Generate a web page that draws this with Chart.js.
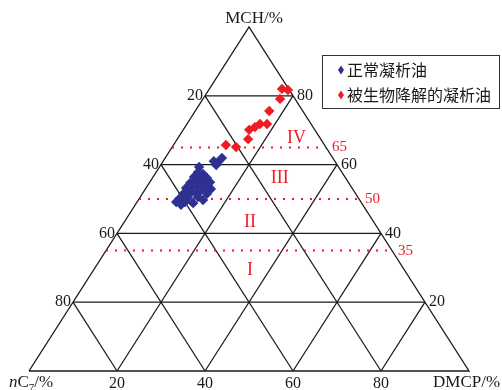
<!DOCTYPE html>
<html>
<head>
<meta charset="utf-8">
<script src="https://cdn.jsdelivr.net/npm/chart.js@4/dist/chart.umd.min.js"></script>
<style>
  html, body { margin: 0; padding: 0; background: #fff; }
  #wrap { width: 502px; height: 390px; position: relative; }
</style>
</head>
<body>
<div id="wrap"><canvas id="c"></canvas></div>
<script>
// Ternary grid ticks (percent) and their labels
const gridTicks = [20, 40, 60, 80];
const tickLabels = ['20', '40', '60', '80'];

// Zone boundaries on the MCH axis and their labels
const zoneBounds = [65, 50, 35];
const zoneBoundLabels = ['65', '50', '35'];
const zoneNames = ['IV', 'III', 'II', 'I'];

// Normal condensate oils: MCH, DMCP, nC7 (%)
const normalMCH  = [61.9, 60.8, 61.0, 59.9, 59.3, 57.8, 57.3, 56.1, 56.4, 55.5, 54.9, 54.1, 54.7, 53.8, 52.9, 53.2, 52.6, 52.0, 51.5, 51.5, 50.6, 50.3, 50.0, 49.1, 49.1, 48.8, 48.3, 53.5, 54.9, 52.6, 51.7, 49.7, 53.8, 50.9, 53.5, 57.0, 55.2];
const normalDMCP = [12.9, 12.6, 11.5, 12.6,  9.0,  9.5, 10.9, 12.4,  9.3, 11.1, 13.7, 13.0,  9.3, 11.1, 14.9,  9.1, 12.8, 11.0, 14.7,  9.3, 13.1, 11.0,  9.1,  8.9, 10.9, 12.9, 10.4, 12.8, 10.0,  9.8, 12.3, 14.7, 13.8, 10.0, 10.1, 10.1, 12.2];
const normalNC7  = [25.2, 26.6, 27.5, 27.5, 31.7, 32.7, 31.8, 31.5, 34.3, 33.4, 31.4, 32.9, 36.0, 35.1, 32.2, 37.7, 34.6, 37.0, 33.8, 39.2, 36.3, 38.7, 40.9, 42.0, 40.0, 38.3, 41.3, 33.7, 35.1, 37.6, 36.0, 35.6, 32.4, 39.1, 36.4, 32.9, 32.6];

// Biodegraded condensate oils: MCH, DMCP, nC7 (%)
const degradedMCH  = [82.0, 81.7, 79.1, 75.6, 71.8, 71.8, 70.9, 70.1, 67.4, 65.1, 65.7];
const degradedDMCP = [16.5, 18.0, 17.5, 16.8, 18.2, 16.6, 15.9, 15.0, 16.1, 14.5, 11.9];
const degradedNC7  = [ 1.5,  0.3,  3.4,  7.6, 10.0, 11.6, 13.2, 14.9, 16.5, 20.4, 22.4];

const BLUE = '#2e3192';
const RED = '#ed1c24';
const SERIF = '"Liberation Serif", "DejaVu Serif", serif';
const CJK = '"Noto Sans CJK SC", sans-serif';

// Ternary (MCH, DMCP, nC7) -> cartesian on a 0..100 x 0..100 frame
function tern(mch, dmcp, nc7) {
  const s = mch + dmcp + nc7;
  const m = mch / s * 100, d = dmcp / s * 100;
  return { x: d + m / 2, y: m };
}
function toPoints(ms, ds, ns) { return ms.map((m, i) => tern(m, ds[i], ns[i])); }

const lineStyle = { type: 'line', showLine: true, pointRadius: 0, borderColor: '#1a1a1a', borderWidth: 1.25, fill: false, clip: false, order: 3, tension: 0 };
const datasets = [];

datasets.push({
  type: 'scatter', label: '正常凝析油', data: toPoints(normalMCH, normalDMCP, normalNC7),
  pointStyle: 'rectRot', pointRadius: 5.2, backgroundColor: BLUE, borderColor: BLUE, borderWidth: 0, clip: false, order: 0
});
datasets.push({
  type: 'scatter', label: '被生物降解的凝析油', data: toPoints(degradedMCH, degradedDMCP, degradedNC7),
  pointStyle: 'rectRot', pointRadius: 5.2, backgroundColor: RED, borderColor: RED, borderWidth: 0, clip: false, order: 0
});

// outer triangle
datasets.push(Object.assign({}, lineStyle, { data: [tern(0, 0, 100), tern(0, 100, 0), tern(100, 0, 0), tern(0, 0, 100)], borderWidth: 1.35 }));
// interior grid
gridTicks.forEach(t => {
  datasets.push(Object.assign({}, lineStyle, { data: [tern(t, 0, 100 - t), tern(t, 100 - t, 0)] }));
  datasets.push(Object.assign({}, lineStyle, { data: [tern(0, t, 100 - t), tern(100 - t, t, 0)] }));
  datasets.push(Object.assign({}, lineStyle, { data: [tern(0, 100 - t, t), tern(100 - t, 0, t)] }));
});
// zone boundaries (dotted)
zoneBounds.forEach(v => {
  datasets.push(Object.assign({}, lineStyle, {
    data: [tern(v, 0, 100 - v), tern(v, 100 - v, 0)],
    borderColor: RED, borderWidth: 2, borderDash: [2, 7], borderCapStyle: 'butt', order: 2
  }));
});

const textPlugin = {
  id: 'ternaryText',
  afterDatasetsDraw(chart) {
    const ctx = chart.ctx;
    const xs = chart.scales.x, ys = chart.scales.y;
    const P = (p) => ({ x: xs.getPixelForValue(p.x), y: ys.getPixelForValue(p.y) });
    ctx.save();
    ctx.fillStyle = '#1a1a1a';
    ctx.font = '16px ' + SERIF;
    ctx.textBaseline = 'middle';

    gridTicks.forEach((t, i) => {
      // DMCP along the base
      let p = P(tern(0, t, 100 - t));
      ctx.textAlign = 'center';
      ctx.fillText(tickLabels[i], p.x, p.y + 13);
      // nC7 along the left edge
      p = P(tern(100 - t, 0, t));
      ctx.textAlign = 'right';
      ctx.fillText(tickLabels[i], p.x - 2, p.y);
      // MCH along the right edge
      p = P(tern(t, 100 - t, 0));
      ctx.textAlign = 'left';
      ctx.fillText(tickLabels[i], p.x + 4, p.y);
    });

    // axis titles
    ctx.font = '17px ' + SERIF;
    const apex = P(tern(100, 0, 0));
    ctx.textAlign = 'center';
    ctx.fillText('MCH/%', apex.x + 5, apex.y - 8);
    const br = P(tern(0, 100, 0));
    ctx.textAlign = 'left';
    ctx.fillText('DMCP/%', br.x - 36, br.y + 12);

    // nC7/% with italic n and subscript 7
    const bl = P(tern(0, 0, 100));
    let cx = bl.x - 20, cy = bl.y + 12;
    ctx.font = 'italic 17px ' + SERIF;
    ctx.fillText('n', cx, cy); cx += ctx.measureText('n').width;
    ctx.font = '17px ' + SERIF;
    ctx.fillText('C', cx, cy); cx += ctx.measureText('C').width;
    ctx.font = '11px ' + SERIF;
    ctx.fillText('7', cx, cy + 5); cx += ctx.measureText('7').width;
    ctx.font = '17px ' + SERIF;
    ctx.fillText('/%', cx, cy);

    // zone boundary labels
    ctx.fillStyle = RED;
    ctx.font = '15px ' + SERIF;
    ctx.textAlign = 'left';
    zoneBounds.forEach((v, i) => {
      const p = P(tern(v, 100 - v, 0));
      ctx.fillText(zoneBoundLabels[i], p.x + 6, p.y);
    });

    // zone names
    ctx.font = '18px ' + SERIF;
    ctx.textAlign = 'center';
    const zonePos = [[67.7, 60.8], [56.1, 57.0], [43.3, 50.2], [29.4, 50.2]];
    zoneNames.forEach((z, i) => {
      ctx.fillText(z, xs.getPixelForValue(zonePos[i][1]), ys.getPixelForValue(zonePos[i][0]));
    });

    // legend
    const lx = 322.5, ly = 55.5, lw = 177, lh = 53;
    ctx.strokeStyle = '#333';
    ctx.lineWidth = 1;
    ctx.strokeRect(lx, ly, lw, lh);
    const items = [[datasets[0].label, BLUE, 70], [datasets[1].label, RED, 95]];
    ctx.font = '16px ' + CJK;
    ctx.textAlign = 'left';
    items.forEach(([txt, col, yy]) => {
      ctx.fillStyle = col;
      ctx.beginPath();
      ctx.moveTo(341, yy - 4.5); ctx.lineTo(344, yy); ctx.lineTo(341, yy + 4.5); ctx.lineTo(338, yy);
      ctx.closePath(); ctx.fill();
      ctx.fillStyle = '#1a1a1a';
      ctx.fillText(txt, 347, yy);
    });
    ctx.restore();
  }
};

new Chart(document.getElementById('c'), {
  type: 'scatter',
  data: { datasets },
  options: {
    responsive: true,
    maintainAspectRatio: false,
    animation: false,
    events: [],
    layout: { padding: { left: 29, right: 33, top: 27, bottom: 19 } },
    scales: {
      x: { type: 'linear', min: 0, max: 100, display: false },
      y: { type: 'linear', min: 0, max: 100, display: false }
    },
    plugins: { legend: { display: false }, tooltip: { enabled: false } }
  },
  plugins: [textPlugin]
});
</script>
</body>
</html>
